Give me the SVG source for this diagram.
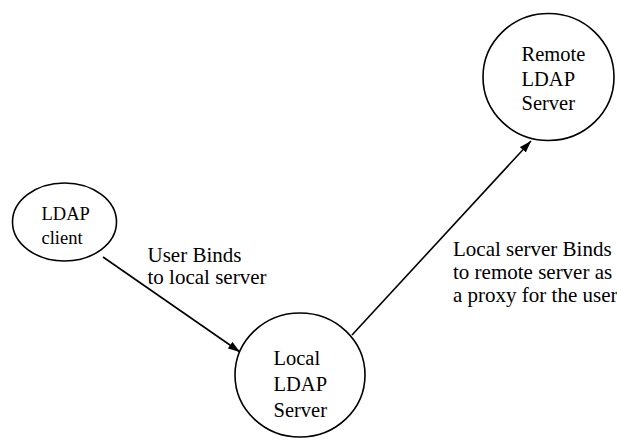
<svg xmlns="http://www.w3.org/2000/svg" width="617" height="441" viewBox="0 0 617 441" font-family="'Liberation Serif', 'Times New Roman', 'DejaVu Serif', serif">
  <style>
    .node { fill: #fff; stroke: #000; stroke-width: 1.6; }
    text { font-family: 'Liberation Serif', 'Times New Roman', 'DejaVu Serif', serif; fill: #000; }
    .edge { stroke: #000; stroke-width: 1.6; fill: none; marker-end: url(#arrow); }
  </style>
  <defs>
    <!-- filled triangular arrowhead shared by both connectors -->
    <marker id="arrow" viewBox="0 0 10 10" refX="10" refY="5" markerWidth="12" markerHeight="8" markerUnits="userSpaceOnUse" orient="auto" preserveAspectRatio="none">
      <path d="M0,0 L10,5 L0,10 Z" fill="#000"/>
    </marker>
  </defs>
  <rect width="617" height="441" fill="#fff"/>

  <g id="connectors">
    <line class="edge" x1="103" y1="257" x2="240" y2="352"/>
    <line class="edge" x1="352" y1="335" x2="531" y2="141"/>
  </g>

  <g id="ldap-client" font-size="18.5">
    <ellipse class="node" cx="64.5" cy="222" rx="52" ry="39"/>
    <text x="41.5" y="220">LDAP</text>
    <text x="41.5" y="243.5">client</text>
  </g>

  <g id="local-ldap-server" font-size="20.5">
    <ellipse class="node" cx="300" cy="375" rx="65" ry="62"/>
    <text x="273.5" y="365">Local</text>
    <text x="273.5" y="391">LDAP</text>
    <text x="273.5" y="417">Server</text>
  </g>

  <g id="remote-ldap-server" font-size="20.5">
    <ellipse class="node" cx="548.5" cy="77" rx="65.5" ry="63.5"/>
    <text x="521.5" y="61">Remote</text>
    <text x="521.5" y="85.5">LDAP</text>
    <text x="521.5" y="110">Server</text>
  </g>

  <g id="edge-labels" font-size="21">
    <text x="147.5" y="261.7">User Binds</text>
    <text x="147.5" y="284.3">to local server</text>
    <text x="453" y="256">Local server Binds</text>
    <text x="453" y="279">to remote server as</text>
    <text x="453" y="301.7">a proxy for the user</text>
  </g>
</svg>
